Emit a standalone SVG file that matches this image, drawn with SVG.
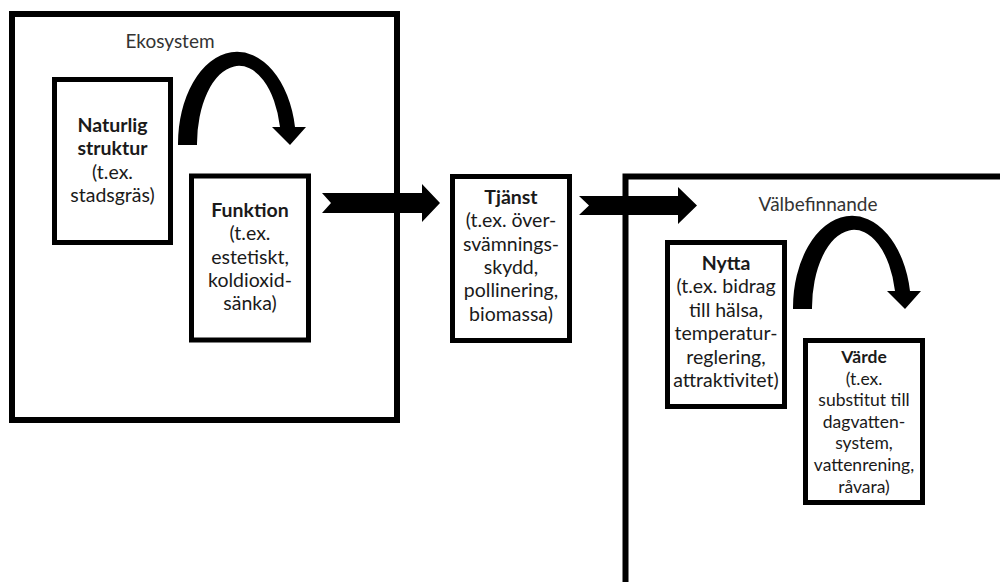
<svg xmlns="http://www.w3.org/2000/svg" width="1000" height="582" viewBox="0 0 1000 582">
<style>
.frame{fill:none;stroke:#000;stroke-width:6}
.box{fill:#fff;stroke:#000;stroke-width:5}
.lbl{font-family:Lato,"Liberation Sans",sans-serif;font-size:19px;fill:#333;text-anchor:middle}
.t{font-family:Lato,"Liberation Sans",sans-serif;font-size:19.5px;fill:#1a1a1a;text-anchor:middle}
.s{font-size:17.5px}
.b{font-weight:bold}
.arr{fill:#000}
</style>
<rect width="1000" height="582" fill="#fff"/>
<g id="ekosystem">
<rect class="frame" x="12" y="14" width="385" height="406"/>
<text class="lbl" x="170" y="48">Ekosystem</text>
</g>
<g id="valbefinnande">
<rect class="frame" x="625.5" y="176.5" width="420" height="450"/>
<text class="lbl" x="818" y="211">Välbefinnande</text>
</g>
<g id="connectors">
<path class="arr" d="M178,145 A59,92 0 0 1 295,127 L306,127 L290,145 L272,127 L280,127 A42,78 0 0 0 197,145 Z"/>
<path class="arr" transform="translate(615,164)" d="M178,145 A59,92 0 0 1 295,127 L306,127 L290,145 L272,127 L280,127 A42,78 0 0 0 197,145 Z"/>
<polygon class="arr" points="322,193 422,193 422,184 440,203 422,222 422,213 322,213 331,203"/>
<polygon class="arr" points="579,196 678,196 678,187 697,205.5 678,224 678,215 579,215 589,205.5"/>
</g>
<g id="naturlig-struktur">
<rect class="box" x="54.5" y="79.5" width="116" height="163"/>
<text class="t" x="112.5" y="132"><tspan class="b">Naturlig</tspan><tspan class="b" x="112.5" dy="23.3">struktur</tspan><tspan x="112.5" dy="23.3">(t.ex.</tspan><tspan x="112.5" dy="23.3">stadsgräs)</tspan></text>
</g>
<g id="funktion">
<rect class="box" x="191.5" y="176" width="117" height="164"/>
<text class="t" x="250" y="217"><tspan class="b">Funktion</tspan><tspan x="250" dy="23.3">(t.ex.</tspan><tspan x="250" dy="23.3">estetiskt,</tspan><tspan x="250" dy="23.3">koldioxid-</tspan><tspan x="250" dy="23.3">sänka)</tspan></text>
</g>
<g id="tjanst">
<rect class="box" x="452.5" y="176.5" width="117" height="164"/>
<text class="t" x="511" y="204"><tspan class="b">Tjänst</tspan><tspan x="511" dy="23.3">(t.ex. över-</tspan><tspan x="511" dy="23.3">svämnings-</tspan><tspan x="511" dy="23.3">skydd,</tspan><tspan x="511" dy="23.3">pollinering,</tspan><tspan x="511" dy="23.3">biomassa)</tspan></text>
</g>
<g id="nytta">
<rect class="box" x="667.5" y="242.5" width="117" height="164"/>
<text class="t" x="726" y="270"><tspan class="b">Nytta</tspan><tspan x="726" dy="23.4">(t.ex. bidrag</tspan><tspan x="726" dy="23.4">till hälsa,</tspan><tspan x="726" dy="23.4">temperatur-</tspan><tspan x="726" dy="23.4">reglering,</tspan><tspan x="726" dy="23.4">attraktivitet)</tspan></text>
</g>
<g id="varde">
<rect class="box" x="805.5" y="340.5" width="117" height="162"/>
<text class="t s" x="864" y="363"><tspan class="b">Värde</tspan><tspan x="864" dy="21.6">(t.ex.</tspan><tspan x="864" dy="21.6">substitut till</tspan><tspan x="864" dy="21.6">dagvatten-</tspan><tspan x="864" dy="21.6">system,</tspan><tspan x="864" dy="21.6">vattenrening,</tspan><tspan x="864" dy="21.6">råvara)</tspan></text>
</g>
</svg>
